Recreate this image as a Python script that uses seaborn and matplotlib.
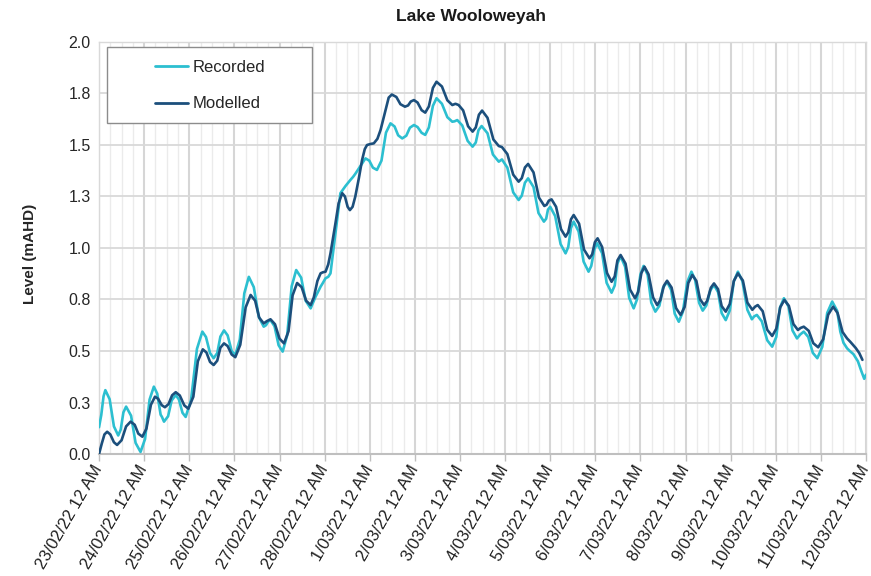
import matplotlib
matplotlib.use("Agg")
import matplotlib.pyplot as plt
import matplotlib.dates as mdates
from matplotlib.patches import Rectangle
import pandas as pd
import seaborn as sns

# Time axis origin: 23/02/2022 00:00; times below are in days from it
start = pd.Timestamp("2022-02-23 00:00")

# Recorded water level (mAHD)
rec_day = [0.00, 0.05, 0.10, 0.14, 0.235, 0.33, 0.425, 0.48, 0.54, 0.60, 0.71, 0.81, 0.92,
           1.02, 1.12, 1.215, 1.29, 1.365, 1.395, 1.415, 1.44, 1.53, 1.61, 1.70, 1.77, 1.85,
           1.92, 2.04, 2.17, 2.29, 2.37, 2.46, 2.54, 2.62, 2.69, 2.77, 2.85, 2.94, 3.02, 3.12,
           3.22, 3.32, 3.43, 3.54, 3.65, 3.70, 3.75, 3.80, 3.89, 3.98, 4.07, 4.17, 4.27, 4.37,
           4.48, 4.58, 4.69, 4.80, 4.86, 4.91, 4.96, 5.02, 5.08, 5.13, 5.24, 5.35, 5.46, 5.57,
           5.63, 5.68, 5.80, 5.905, 5.99, 6.07, 6.16, 6.26, 6.36, 6.46, 6.55, 6.63, 6.72, 6.81,
           6.89, 6.98, 7.06, 7.15, 7.23, 7.31, 7.40, 7.48, 7.60, 7.72, 7.83, 7.88, 7.94, 8.05,
           8.17, 8.28, 8.35, 8.41, 8.48, 8.61, 8.73, 8.86, 8.93, 9.05, 9.18, 9.30, 9.37, 9.44,
           9.51, 9.63, 9.74, 9.86, 9.91, 9.95, 10.00, 10.11, 10.23, 10.34, 10.40, 10.46, 10.52,
           10.63, 10.74, 10.85, 10.91, 10.98, 11.04, 11.15, 11.25, 11.36, 11.43, 11.49, 11.56,
           11.66, 11.75, 11.85, 11.92, 12.00, 12.07, 12.16, 12.24, 12.33, 12.42, 12.50, 12.59,
           12.68, 12.76, 12.85, 12.94, 13.04, 13.13, 13.21, 13.30, 13.38, 13.46, 13.55, 13.63,
           13.72, 13.80, 13.89, 13.98, 14.07, 14.16, 14.26, 14.37, 14.47, 14.52, 14.58, 14.69,
           14.81, 14.92, 15.01, 15.09, 15.18, 15.28, 15.37, 15.47, 15.54, 15.62, 15.72, 15.82,
           15.92, 16.03, 16.14, 16.25, 16.36, 16.43, 16.50, 16.58, 16.64, 16.72, 16.82, 16.90,
           16.96, 17.00]
rec_level = [0.13, 0.19, 0.28, 0.31, 0.266, 0.134, 0.09, 0.118, 0.202, 0.23, 0.186, 0.054, 0.01,
             0.073, 0.264, 0.327, 0.293, 0.191, 0.18, 0.17, 0.157, 0.183, 0.26, 0.286, 0.265, 0.20,
             0.18, 0.263, 0.51, 0.594, 0.568, 0.49, 0.465, 0.49, 0.57, 0.60, 0.576, 0.50, 0.48, 0.556,
             0.78, 0.86, 0.81, 0.666, 0.618, 0.625, 0.643, 0.65, 0.62, 0.528, 0.497, 0.576, 0.814, 0.893,
             0.856, 0.744, 0.707, 0.764, 0.79, 0.812, 0.83, 0.853, 0.86, 0.877, 1.07, 1.266, 1.30, 1.33,
             1.345, 1.36, 1.40, 1.435, 1.424, 1.39, 1.379, 1.424, 1.56, 1.605, 1.59, 1.547, 1.532, 1.545,
             1.584, 1.597, 1.587, 1.559, 1.549, 1.585, 1.69, 1.727, 1.70, 1.635, 1.613, 1.615, 1.621, 1.595,
             1.52, 1.492, 1.512, 1.572, 1.592, 1.557, 1.454, 1.419, 1.43, 1.39, 1.27, 1.233, 1.254, 1.317,
             1.338, 1.296, 1.17, 1.128, 1.142, 1.186, 1.20, 1.155, 1.019, 0.974, 1.005, 1.097, 1.128,
             1.08, 0.934, 0.885, 0.913, 0.995, 1.023, 0.975, 0.831, 0.783, 0.818, 0.925, 0.96,
             0.909, 0.758, 0.707, 0.748, 0.872, 0.913, 0.869, 0.735, 0.691, 0.72, 0.807, 0.836,
             0.797, 0.681, 0.642, 0.69, 0.836, 0.885, 0.847, 0.734, 0.696, 0.721, 0.795, 0.82,
             0.786, 0.684, 0.65, 0.697, 0.838, 0.885, 0.839, 0.70, 0.654, 0.668, 0.675, 0.644,
             0.552, 0.521, 0.568, 0.709, 0.756, 0.717, 0.60, 0.561, 0.58, 0.594, 0.568, 0.491,
             0.465, 0.52, 0.685, 0.74, 0.695, 0.594, 0.54, 0.513, 0.50, 0.485, 0.45, 0.40,
             0.365, 0.385]

# Modelled water level (mAHD)
mod_day = [0.00, 0.06, 0.12, 0.18, 0.25, 0.33, 0.40, 0.50, 0.60, 0.70, 0.79, 0.87, 0.96, 1.05,
           1.15, 1.24, 1.31, 1.39, 1.46, 1.54, 1.62, 1.70, 1.79, 1.89, 1.98, 2.09, 2.19, 2.30,
           2.38, 2.46, 2.54, 2.62, 2.69, 2.77, 2.85, 2.94, 3.02, 3.13, 3.25, 3.36, 3.46, 3.55,
           3.65, 3.72, 3.80, 3.90, 4.00, 4.10, 4.20, 4.29, 4.39, 4.49, 4.59, 4.69, 4.76, 4.84,
           4.91, 4.96, 5.02, 5.08, 5.13, 5.24, 5.31, 5.39, 5.45, 5.51, 5.56, 5.62, 5.68, 5.76,
           5.83, 5.89, 5.94, 6.02, 6.09, 6.17, 6.24, 6.35, 6.42, 6.49, 6.59, 6.68, 6.78, 6.85,
           6.91, 6.98, 7.06, 7.15, 7.23, 7.31, 7.40, 7.48, 7.60, 7.72, 7.83, 7.90, 7.97, 8.07,
           8.18, 8.28, 8.35, 8.42, 8.49, 8.61, 8.74, 8.86, 8.93, 9.05, 9.18, 9.30, 9.37, 9.44,
           9.51, 9.63, 9.75, 9.87, 9.92, 9.97, 10.03, 10.13, 10.24, 10.34, 10.40, 10.46, 10.52,
           10.64, 10.75, 10.87, 10.93, 10.99, 11.05, 11.15, 11.26, 11.36, 11.43, 11.49, 11.56,
           11.67, 11.77, 11.88, 11.95, 12.02, 12.09, 12.18, 12.28, 12.37, 12.44, 12.52, 12.59,
           12.69, 12.79, 12.89, 12.98, 13.06, 13.15, 13.24, 13.32, 13.41, 13.48, 13.56, 13.63,
           13.72, 13.80, 13.89, 13.98, 14.07, 14.16, 14.27, 14.37, 14.48, 14.54, 14.60, 14.71,
           14.81, 14.92, 15.01, 15.10, 15.19, 15.29, 15.39, 15.49, 15.55, 15.62, 15.73, 15.83,
           15.94, 16.05, 16.16, 16.27, 16.37, 16.48, 16.58, 16.65, 16.77, 16.85, 16.92]
mod_level = [0.00, 0.05, 0.095, 0.108, 0.095, 0.057, 0.044, 0.067, 0.134, 0.157, 0.142, 0.099, 0.084, 0.123,
             0.239, 0.278, 0.268, 0.237, 0.227, 0.242, 0.285, 0.30, 0.284, 0.236, 0.22, 0.278, 0.45, 0.508,
             0.493, 0.447, 0.432, 0.453, 0.516, 0.537, 0.524, 0.483, 0.47, 0.53, 0.712, 0.772, 0.744, 0.662,
             0.634, 0.645, 0.654, 0.63, 0.56, 0.537, 0.596, 0.77, 0.83, 0.81, 0.744, 0.723, 0.76, 0.84,
             0.877, 0.882, 0.885, 0.92, 0.974, 1.12, 1.217, 1.266, 1.25, 1.20, 1.184, 1.20, 1.25, 1.34,
             1.427, 1.48, 1.50, 1.505, 1.508, 1.53, 1.573, 1.67, 1.73, 1.745, 1.733, 1.698, 1.686, 1.692,
             1.711, 1.718, 1.706, 1.669, 1.657, 1.687, 1.777, 1.807, 1.784, 1.717, 1.694, 1.70, 1.694, 1.668,
             1.591, 1.565, 1.585, 1.647, 1.667, 1.632, 1.527, 1.495, 1.49, 1.456, 1.356, 1.322, 1.339, 1.391,
             1.408, 1.367, 1.245, 1.204, 1.21, 1.23, 1.236, 1.20, 1.091, 1.055, 1.076, 1.139, 1.16,
             1.118, 0.992, 0.95, 0.969, 1.028, 1.047, 1.005, 0.878, 0.836, 0.862, 0.94, 0.966,
             0.924, 0.798, 0.756, 0.787, 0.878, 0.909, 0.872, 0.76, 0.723, 0.747, 0.817, 0.841,
             0.808, 0.708, 0.675, 0.714, 0.83, 0.869, 0.84, 0.752, 0.723, 0.744, 0.807, 0.828,
             0.80, 0.718, 0.691, 0.728, 0.84, 0.877, 0.842, 0.735, 0.70, 0.715, 0.723, 0.693,
             0.603, 0.573, 0.608, 0.713, 0.748, 0.719, 0.631, 0.602, 0.612, 0.618, 0.598, 0.538,
             0.518, 0.557, 0.676, 0.715, 0.684, 0.592, 0.561, 0.545, 0.515, 0.49, 0.457]

series_names = ["Recorded", "Modelled"]
series_colors = ["#2cbfd0", "#1c4f7c"]

y_ticks = [0.0, 0.25, 0.5, 0.75, 1.0, 1.25, 1.5, 1.75, 2.0]
y_tick_labels = ["0.0", "0.3", "0.5", "0.8", "1.0", "1.3", "1.5", "1.8", "2.0"]
x_tick_labels = ["23/02/22 12 AM", "24/02/22 12 AM", "25/02/22 12 AM", "26/02/22 12 AM",
                 "27/02/22 12 AM", "28/02/22 12 AM", "1/03/22 12 AM", "2/03/22 12 AM",
                 "3/03/22 12 AM", "4/03/22 12 AM", "5/03/22 12 AM", "6/03/22 12 AM",
                 "7/03/22 12 AM", "8/03/22 12 AM", "9/03/22 12 AM", "10/03/22 12 AM",
                 "11/03/22 12 AM", "12/03/22 12 AM"]

sns.set_theme(style="white")
plt.rcParams["font.family"] = ["Liberation Sans", "DejaVu Sans"]

recorded = pd.DataFrame({"time": start + pd.to_timedelta(rec_day, unit="D"), "level": rec_level})
modelled = pd.DataFrame({"time": start + pd.to_timedelta(mod_day, unit="D"), "level": mod_level})

fig = plt.figure(figsize=(8.71, 5.76), dpi=100)
ax = fig.add_axes([0.1137, 0.2118, 0.8806, 0.7153])
ax.set_axisbelow(True)

for df, name, col in [(recorded, series_names[0], series_colors[0]),
                      (modelled, series_names[1], series_colors[1])]:
    sns.lineplot(data=df, x="time", y="level", color=col, linewidth=1.9,
                 label=name, ax=ax, zorder=3)
for line in ax.get_lines():
    line.set_solid_joinstyle("round")
    line.set_solid_capstyle("round")

# Axis ranges and ticks
tick_dates = [start + pd.Timedelta(days=i) for i in range(len(x_tick_labels))]
ax.set_xlim(tick_dates[0], tick_dates[-1])
ax.set_ylim(0, 2.0)
ax.set_yticks(y_ticks)
ax.set_yticklabels(y_tick_labels)
ax.set_xticks(tick_dates)
ax.set_xticklabels(x_tick_labels, rotation=60, ha="right", va="center", rotation_mode="anchor")
ax.xaxis.set_minor_locator(mdates.HourLocator(byhour=[6, 12, 18]))

ax.tick_params(axis="x", which="major", length=5, width=1, color="#bfbfbf", pad=4,
               labelsize=12, labelcolor="#1f1f1f", direction="out", bottom=True)
ax.tick_params(axis="x", which="minor", length=0)
ax.tick_params(axis="y", length=0, labelsize=11.5, labelcolor="#262626", pad=6)

# Grid
ax.grid(which="major", axis="x", color="#d6d6d6", linewidth=1.5)
ax.grid(which="minor", axis="x", color="#ebebeb", linewidth=1.0)
ax.grid(which="major", axis="y", color="#d9d9d9", linewidth=1.3)

for side in ["left", "top", "right"]:
    ax.spines[side].set_color("#d9d9d9")
    ax.spines[side].set_linewidth(1.0)
ax.spines["bottom"].set_color("#bfbfbf")
ax.spines["bottom"].set_linewidth(1.5)

ax.set_xlabel("")
ax.set_ylabel("")
fig.text(30 / 871, 1 - 254 / 576, "Level (mAHD)", rotation=90, ha="center", va="center",
         fontsize=11, fontweight="bold", color="#262626")
fig.text(471 / 871, 1 - 16 / 576, "Lake Wooloweyah", ha="center", va="center",
         fontsize=12.5, fontweight="bold", color="#1a1a1a")

# Legend with a boxed frame
box = Rectangle((0.0108, 0.804), 0.267, 0.183, transform=ax.transAxes, facecolor="white",
                edgecolor="#8c8c8c", linewidth=1.0, zorder=4)
ax.add_patch(box)
leg = ax.legend(loc="upper left", bbox_to_anchor=(0.073, 0.957), frameon=False, fontsize=12,
                handlelength=2.0, handletextpad=0.25, labelspacing=1.3, borderpad=0,
                borderaxespad=0)
leg.set_zorder(5)
for line in leg.get_lines():
    line.set_linewidth(2.0)

fig.savefig("out.png", dpi=100)
